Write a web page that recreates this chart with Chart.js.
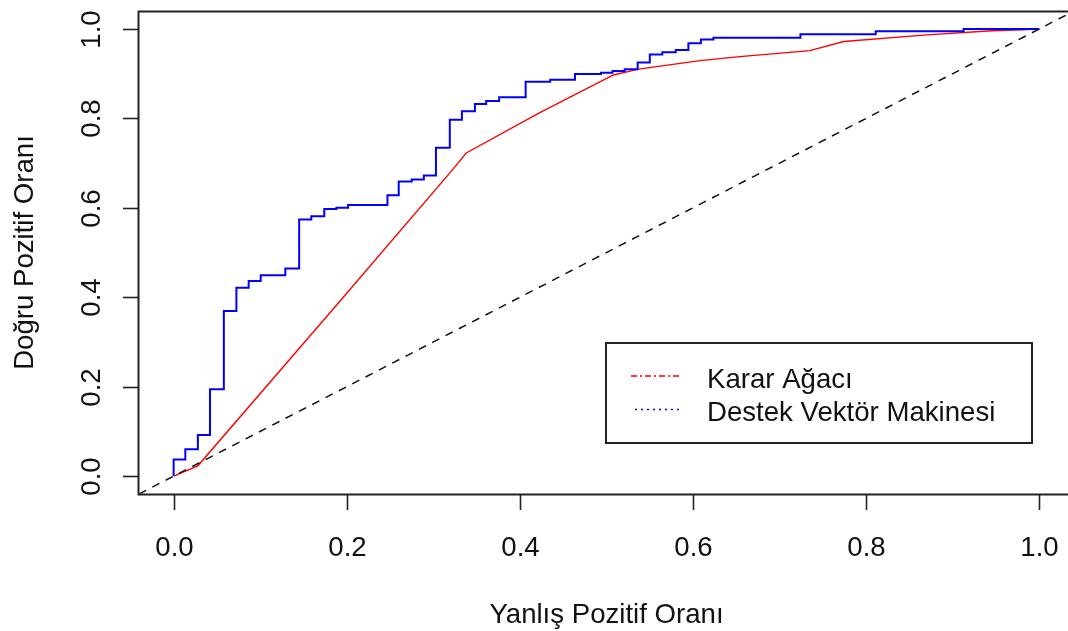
<!DOCTYPE html>
<html>
<head>
<meta charset="utf-8">
<script src="https://cdn.jsdelivr.net/npm/chart.js@4.4.1/dist/chart.umd.min.js"></script>
<style>
html, body { margin: 0; padding: 0; overflow: hidden; background: #fff; width: 1068px; height: 631px; }
#wrap { position: absolute; left: 0; top: 0; width: 1076px; height: 631px; }
</style>
</head>
<body>
<div id="wrap"><canvas id="c" width="1076" height="631"></canvas></div>
<script>
// ---- data ----
// SVM (blue, step ROC): horizontal level tpr ending at fpr
const svmFpr = [0, 0.0135, 0.028, 0.042, 0.058, 0.0725, 0.0867, 0.1006, 0.129, 0.145, 0.159, 0.174, 0.188, 0.2015, 0.247, 0.260, 0.275, 0.289, 0.303, 0.319, 0.333, 0.348, 0.361, 0.376, 0.4066, 0.435, 0.4636, 0.4936, 0.507, 0.521, 0.536, 0.550, 0.5645, 0.580, 0.5946, 0.609, 0.6235, 0.724, 0.811, 0.9125, 1.0];
const svmTpr = [0, 0.037, 0.060, 0.092, 0.194, 0.369, 0.421, 0.436, 0.449, 0.464, 0.574, 0.581, 0.597, 0.600, 0.606, 0.628, 0.659, 0.663, 0.672, 0.734, 0.797, 0.816, 0.832, 0.839, 0.847, 0.882, 0.886, 0.899, 0.902, 0.906, 0.910, 0.925, 0.943, 0.948, 0.953, 0.968, 0.976, 0.980, 0.988, 0.995, 1.0];
// Decision tree (red)
const treeFpr = [0, 0.028, 0.192, 0.323, 0.338, 0.423, 0.508, 0.537, 0.608, 0.654, 0.735, 0.774, 0.870, 0.945, 0.980, 1.0];
const treeTpr = [0, 0.023, 0.391, 0.687, 0.7225, 0.813, 0.897, 0.910, 0.929, 0.938, 0.9515, 0.9717, 0.9866, 0.996, 0.998, 1.0];
// Reference diagonal
const diagX = [-0.04, 1.04];
const diagY = [-0.04, 1.04];
// Ticks
const xTicks = [0, 0.2, 0.4, 0.6, 0.8, 1.0];
const xTickLabels = ['0.0', '0.2', '0.4', '0.6', '0.8', '1.0'];
const yTicks = [0, 0.2, 0.4, 0.6, 0.8, 1.0];
const yTickLabels = ['0.0', '0.2', '0.4', '0.6', '0.8', '1.0'];
// Text
const xTitle = 'Yanlış Pozitif Oranı';
const yTitle = 'Doğru Pozitif Oranı';
const seriesNames = ['Karar Ağacı', 'Destek Vektör Makinesi'];

const FONT = '27.6px "Liberation Sans", Arial, sans-serif';
const TXT = '#111';

function pts(xs, ys) { return xs.map((x, i) => ({ x: x, y: ys[i] })); }

const rStyle = {
  id: 'rStyle',
  afterDraw(chart) {
    const ctx = chart.ctx;
    const a = chart.chartArea;
    const xs = chart.scales.x, ys = chart.scales.y;
    ctx.save();
    // box
    ctx.strokeStyle = '#222';
    ctx.lineWidth = 2;
    ctx.strokeRect(a.left - 0.5, a.top + 0.5, a.right - a.left, a.bottom - a.top);
    // x ticks
    ctx.lineWidth = 1.6;
    ctx.font = FONT;
    ctx.fillStyle = TXT;
    ctx.textAlign = 'center';
    ctx.textBaseline = 'alphabetic';
    xTicks.forEach((v, i) => {
      const px = Math.round(xs.getPixelForValue(v)) + 0.5;
      ctx.beginPath();
      ctx.moveTo(px, a.bottom);
      ctx.lineTo(px, a.bottom + 16);
      ctx.stroke();
      ctx.fillText(xTickLabels[i], px, 556);
    });
    // y ticks
    yTicks.forEach((v, i) => {
      const py = Math.round(ys.getPixelForValue(v)) + 0.5;
      ctx.beginPath();
      ctx.moveTo(a.left - 16, py);
      ctx.lineTo(a.left, py);
      ctx.stroke();
      ctx.save();
      ctx.translate(100, py);
      ctx.rotate(-Math.PI / 2);
      ctx.fillText(yTickLabels[i], 0, 0);
      ctx.restore();
    });
    // axis titles
    ctx.fillText(xTitle, (a.left + a.right) / 2, 623);
    ctx.save();
    ctx.translate(33, (a.top + a.bottom) / 2);
    ctx.rotate(-Math.PI / 2);
    ctx.fillText(yTitle, 0, 0);
    ctx.restore();
    // legend
    ctx.fillStyle = '#fff';
    ctx.fillRect(606, 343, 426, 100);
    ctx.strokeStyle = '#222';
    ctx.lineWidth = 2;
    ctx.strokeRect(606, 343, 426, 100);
    ctx.lineWidth = 1.6;
    ctx.strokeStyle = '#ff0000';
    ctx.setLineDash([6, 3, 2, 3]);
    ctx.beginPath(); ctx.moveTo(631, 376); ctx.lineTo(682, 376); ctx.stroke();
    ctx.strokeStyle = '#0000ff';
    ctx.setLineDash([2, 4]);
    ctx.beginPath(); ctx.moveTo(635, 409.5); ctx.lineTo(679, 409.5); ctx.stroke();
    ctx.setLineDash([]);
    ctx.fillStyle = TXT;
    ctx.textAlign = 'left';
    ctx.fillText(seriesNames[0], 707, 388);
    ctx.fillText(seriesNames[1], 707, 421);
    ctx.restore();
  }
};

new Chart(document.getElementById('c'), {
  type: 'scatter',
  data: {
    datasets: [
      { label: 'diag', data: pts(diagX, diagY), showLine: true, borderColor: '#111', borderWidth: 1.5, borderDash: [8, 7], pointRadius: 0, order: 0 },
      { label: seriesNames[1], data: pts(svmFpr, svmTpr), showLine: true, stepped: 'after', borderColor: '#0000ff', borderWidth: 2, pointRadius: 0, order: 1 },
      { label: seriesNames[0], data: pts(treeFpr, treeTpr), showLine: true, borderColor: '#ff0000', borderWidth: 1.4, pointRadius: 0, order: 2 }
    ]
  },
  options: {
    responsive: false,
    animation: false,
    devicePixelRatio: 1,
    layout: { padding: { left: 139, top: 11, right: 2, bottom: 137 } },
    plugins: { legend: { display: false }, tooltip: { enabled: false } },
    events: [],
    scales: {
      x: { type: 'linear', min: -0.04, max: 1.04, display: false },
      y: { type: 'linear', min: -0.04, max: 1.04, display: false }
    }
  },
  plugins: [rStyle]
});
</script>
</body>
</html>
